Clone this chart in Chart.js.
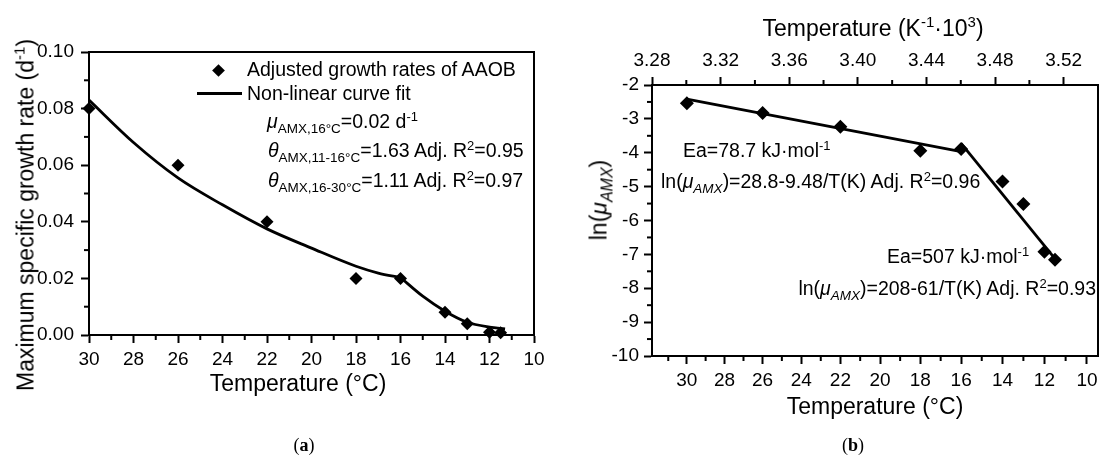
<!DOCTYPE html>
<html>
<head>
<meta charset="utf-8">
<script src="https://cdn.jsdelivr.net/npm/chart.js@4.4.0/dist/chart.umd.min.js"></script>
<style>
  body { margin: 0; background: #fff; }
  #wrap { position: relative; width: 1105px; height: 457px; overflow: hidden;
          font-family: "Liberation Sans", Arial, sans-serif; color: #000; }
  canvas { position: absolute; top: 0; }
  .t { position: absolute; white-space: nowrap; font-size: 19.5px; line-height: 19px; }
  .sub { font-size: 13.5px; position: relative; top: 5px; }
  .sup { font-size: 13px; position: relative; top: -7px; }
  .ti { position: absolute; white-space: nowrap; font-size: 23px; line-height: 23px; }
  .ti .sub { font-size: 16px; top: 6px; }
  .ti .sup { font-size: 15px; top: -9px; }
  .rot { transform: translate(-50%, -50%) rotate(-90deg); }
  .ctr { transform: translateX(-50%); }
  .pl { position: absolute; font-family: "Liberation Serif", serif; font-size: 18px; line-height: 18px; transform: translateX(-50%); }
</style>
</head>
<body>
<div id="wrap">
  <canvas id="chartA" width="545" height="457" style="left:0"></canvas>
  <canvas id="chartB" width="560" height="457" style="left:545px"></canvas>

  <!-- panel a: legend + notes -->
  <div style="position:absolute;left:213.5px;top:65.5px;width:9px;height:9px;background:#000;transform:rotate(45deg)"></div>
  <div style="position:absolute;left:197px;top:92px;width:45px;height:3px;background:#000"></div>
  <div class="t" style="left:247px;top:60px">Adjusted growth rates of AAOB</div>
  <div class="t" style="left:247px;top:84px">Non-linear curve fit</div>
  <div class="t" style="left:267px;top:112px"><i>μ</i><span class="sub">AMX,16°C</span>=0.02 d<span class="sup">-1</span></div>
  <div class="t" style="left:268px;top:141px"><i>θ</i><span class="sub">AMX,11-16°C</span>=1.63 Adj. R<span class="sup">2</span>=0.95</div>
  <div class="t" style="left:268px;top:171px"><i>θ</i><span class="sub">AMX,16-30°C</span>=1.11 Adj. R<span class="sup">2</span>=0.97</div>

  <div class="ti rot" style="left:27px;top:215px">Maximum specific growth rate (d<span class="sup">-1</span>)</div>
  <div class="ti ctr" style="left:298px;top:372px">Temperature (°C)</div>
  <div class="pl" style="left:304px;top:436px">(<b>a</b>)</div>

  <!-- panel b: notes -->
  <div class="t" style="left:683px;top:141px">Ea=78.7 kJ·mol<span class="sup">-1</span></div>
  <div class="t" style="left:661px;top:172px">ln(<i>μ<span class="sub">AMX</span></i>)=28.8-9.48/T(K) Adj. R<span class="sup">2</span>=0.96</div>
  <div class="t" style="left:887px;top:247px">Ea=507 kJ·mol<span class="sup">-1</span></div>
  <div class="t" style="right:9px;top:279px">ln(<i>μ<span class="sub">AMX</span></i>)=208-61/T(K) Adj. R<span class="sup">2</span>=0.93</div>

  <div class="ti rot" style="left:600px;top:200px">ln(<i>μ<span class="sub">AMX</span></i>)</div>
  <div class="ti ctr" style="left:873px;top:17px">Temperature (K<span class="sup">-1</span>·10<span class="sup">3</span>)</div>
  <div class="ti ctr" style="left:875px;top:395px">Temperature (°C)</div>
  <div class="pl" style="left:853px;top:436px">(<b>b</b>)</div>
</div>

<script>
// measured rates (left) and their logs (right)
const tempPts = [30, 26, 22, 18, 16, 14, 13, 12, 11.5];
const muPts = [0.080, 0.060, 0.040, 0.020, 0.020, 0.008, 0.004, 0.001, 0.0008];
const lnPts = [-2.54, -2.83, -3.23, -3.94, -3.89, -4.85, -5.51, -6.92, -7.16];

// non-linear fit (two branches meet at 16 °C)
const fitHighT = [30, 28, 26, 24, 22, 20, 18, 17, 16];
const fitHighMu = [0.083, 0.068, 0.0555, 0.046, 0.0375, 0.0307, 0.0243, 0.0219, 0.0203];
const fitLowT = [16, 15, 14, 13, 12, 11.3];
const fitLowMu = [0.0203, 0.0137, 0.0084, 0.0045, 0.0028, 0.0022];

// Arrhenius lines
const line1T = [30, 16];
const line1Ln = [-2.42, -3.97];
const line2T = [16, 11.4];
const line2Ln = [-3.72, -7.21];

// ticks
const aXTicks = [30, 28, 26, 24, 22, 20, 18, 16, 14, 12, 10];
const aXMinor = [29, 27, 25, 23, 21, 19, 17, 15, 13, 11];
const aYTicks = [0, 0.02, 0.04, 0.06, 0.08, 0.10];
const aYMinor = [0.01, 0.03, 0.05, 0.07, 0.09];
const bTempTicks = [30, 28, 26, 24, 22, 20, 18, 16, 14, 12, 10];
const bTempMinor = [31, 29, 27, 25, 23, 21, 19, 17, 15, 13, 11];
const bTopTicks = [3.28, 3.32, 3.36, 3.40, 3.44, 3.48, 3.52];
const bTopMinor = [3.30, 3.34, 3.38, 3.42, 3.46, 3.50];
const bYTicks = [-2, -3, -4, -5, -6, -7, -8, -9, -10];
const bYMinor = [-2.5, -3.5, -4.5, -5.5, -6.5, -7.5, -8.5, -9.5];

const FONT = "'Liberation Sans', Arial, sans-serif";
const invT = (t) => 1000 / (t + 273);
const xy = (xs, ys) => xs.map((x, i) => ({ x, y: ys[i] }));

// frame round the plot + minor tick marks
function frameAndMinor(list) {
  return {
    id: "frameAndMinor",
    beforeDatasetsDraw(chart) {
      const ctx = chart.ctx;
      const a = chart.chartArea;
      ctx.save();
      ctx.strokeStyle = "#000";
      ctx.lineWidth = 2;
      ctx.strokeRect(a.left, a.top, a.right - a.left, a.bottom - a.top);
      list.forEach((m) => {
        const s = chart.scales[m.scale];
        m.values.forEach((v) => {
          const p = s.getPixelForValue(m.conv ? m.conv(v) : v);
          ctx.beginPath();
          if (s.isHorizontal()) {
            if (s.position === "top") { ctx.moveTo(p, a.top); ctx.lineTo(p, a.top - 5); }
            else { ctx.moveTo(p, a.bottom); ctx.lineTo(p, a.bottom + 5); }
          } else {
            ctx.moveTo(a.left, p); ctx.lineTo(a.left - 5, p);
          }
          ctx.stroke();
        });
      });
      ctx.restore();
    },
  };
}

function fixSize(prop, size) {
  return (s) => {
    s[prop] = size;
    s.paddingLeft = s.paddingRight = s.paddingTop = s.paddingBottom = 0;
  };
}

function tickFont(extra) {
  return Object.assign({ color: "#000", font: { family: FONT, size: 19 }, padding: 5, autoSkip: false, maxRotation: 0 }, extra);
}

function axis(extra) {
  return Object.assign({
    type: "linear",
    grid: { drawOnChartArea: false, drawTicks: true, tickLength: 8, tickWidth: 2, tickColor: "#000" },
    border: { color: "#000", width: 2 },
    ticks: tickFont({}),
  }, extra);
}

function setTicks(list) {
  return (s) => { s.ticks = list.map((v) => ({ value: v })); };
}

const markers = {
  pointStyle: "rectRot", backgroundColor: "#000", borderColor: "#000",
  borderWidth: 0, clip: false, order: 0,
};
const lineStyle = {
  showLine: true, pointRadius: 0, borderColor: "#000", borderWidth: 2.8,
  fill: false, order: 1,
};

new Chart(document.getElementById("chartA"), {
  type: "scatter",
  data: {
    datasets: [
      { ...markers, data: xy(tempPts, muPts), pointRadius: 6.5 },
      { ...lineStyle, data: xy(fitHighT, fitHighMu), cubicInterpolationMode: "monotone" },
      { ...lineStyle, data: xy(fitLowT, fitLowMu), cubicInterpolationMode: "monotone" },
    ],
  },
  options: {
    responsive: false,
    animation: false,
    devicePixelRatio: 1,
    layout: { padding: { left: 0, top: 52, right: 11, bottom: 0 } },
    plugins: { legend: { display: false }, tooltip: { enabled: false } },
    scales: {
      x: axis({
        min: 10, max: 30, reverse: true,
        afterBuildTicks: setTicks(aXTicks),
        afterFit: fixSize("height", 122),
      }),
      y: axis({
        min: 0, max: 0.1,
        afterBuildTicks: setTicks(aYTicks),
        afterFit: fixSize("width", 89),
        ticks: tickFont({ padding: 7, callback: (v) => v.toFixed(2) }),
      }),
    },
  },
  plugins: [frameAndMinor([
    { scale: "x", values: aXMinor },
    { scale: "y", values: aYMinor },
  ])],
});

new Chart(document.getElementById("chartB"), {
  type: "scatter",
  data: {
    datasets: [
      { ...markers, data: xy(tempPts.map(invT), lnPts), pointRadius: 7 },
      { ...lineStyle, data: xy(line1T.map(invT), line1Ln) },
      { ...lineStyle, data: xy(line2T.map(invT), line2Ln) },
    ],
  },
  options: {
    responsive: false,
    animation: false,
    devicePixelRatio: 1,
    layout: { padding: { left: 0, top: 0, right: 2, bottom: 0 } },
    plugins: { legend: { display: false }, tooltip: { enabled: false } },
    scales: {
      x: axis({
        min: 3.28, max: 3.54, position: "bottom",
        afterBuildTicks: setTicks(bTempTicks.map(invT)),
        afterFit: fixSize("height", 101),
        ticks: tickFont({ callback: (v, i) => String(bTempTicks[i]) }),
      }),
      x2: axis({
        axis: "x", min: 3.28, max: 3.54, position: "top",
        afterBuildTicks: setTicks(bTopTicks),
        afterFit: fixSize("height", 85),
        ticks: tickFont({ callback: (v) => v.toFixed(2) }),
      }),
      y: axis({
        min: -10, max: -2,
        afterBuildTicks: setTicks(bYTicks),
        afterFit: fixSize("width", 107),
        ticks: tickFont({ callback: (v) => String(v) }),
      }),
    },
  },
  plugins: [frameAndMinor([
    { scale: "x", values: bTempMinor, conv: invT },
    { scale: "x2", values: bTopMinor },
    { scale: "y", values: bYMinor },
  ])],
});
</script>
</body>
</html>
